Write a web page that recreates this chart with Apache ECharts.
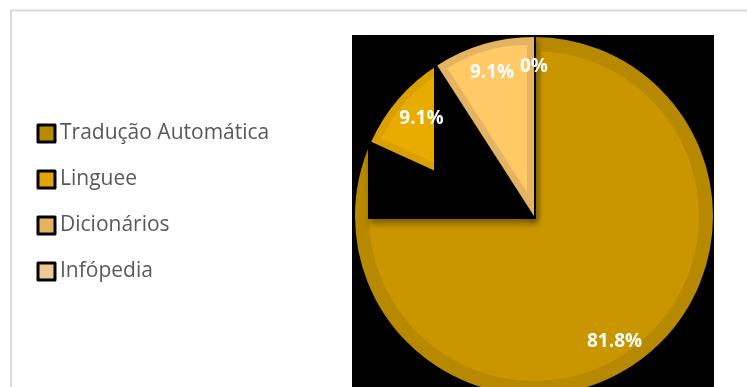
<!DOCTYPE html>
<html>
<head>
<meta charset="utf-8">
<script src="https://cdn.jsdelivr.net/npm/echarts@6/dist/echarts.min.js"></script>
<style>
  html, body { margin: 0; padding: 0; background: #ffffff; }
  #chart { width: 747px; height: 387px; }
</style>
</head>
<body>
<div id="chart"></div>
<script>
// Source categories and response counts
const categories = ['Tradução Automática', 'Linguee', 'Dicionários', 'Infópedia'];
const counts = [9, 1, 1, 0];

// Slice fills, inner bevel rims and legend swatches
const fillColors = ['#C99600', '#E8AB00', '#FFC966', '#F2D3A0'];
const rimColors = ['#B78900', '#D9A000', '#E5B462', '#E6C38C'];
const legendColors = ['#B88A00', '#DFA700', '#E7B45E', '#EDC996'];

// Pie geometry (px)
const CX = 534, CY = 216, R = 179, RIM = 7;
const PLOT = { x: 352, y: 35, w: 362, h: 400 };

const total = counts.reduce((a, b) => a + b, 0);
// cumulative angles, degrees clockwise from 12 o'clock
const startDeg = [];
let acc = 0;
counts.forEach(v => { startDeg.push(acc / total * 360); acc += v; });
const spanDeg = counts.map(v => v / total * 360);

// Inset wedge for a narrow slice: same angles, apex pushed out along the bisector
function insetCenter(i) {
  const half = spanDeg[i] / 2 * Math.PI / 180;
  const mid = (startDeg[i] + spanDeg[i] / 2) * Math.PI / 180;
  const s = RIM / Math.sin(half);
  return { c: [CX + s * Math.sin(mid), CY - s * Math.cos(mid)], r: R - RIM - s };
}

const TRANSPARENT = 'rgba(0,0,0,0)';

function pieLayer(z, center, radius, styleOf, label) {
  return {
    type: 'pie',
    silent: true,
    animation: false,
    z: z,
    center: center,
    radius: radius,
    startAngle: 90,
    clockwise: true,
    percentPrecision: 1,
    emphasis: { disabled: true },
    label: label || { show: false },
    labelLine: { show: false },
    data: categories.map((name, i) => ({ name: name, value: counts[i], itemStyle: styleOf(i) }))
  };
}

const only = (k, style) => i => (i === k ? style : { color: TRANSPARENT, borderWidth: 0 });

const ling = insetCenter(1);
const dic = insetCenter(2);

const series = [
  // main slice with its rim as a stroke (outer half hidden by the shrunken radius)
  pieLayer(2, [CX, CY], R - RIM, only(0, {
    color: fillColors[0], borderColor: rimColors[0], borderWidth: RIM * 2, borderJoin: 'round'
  })),
  // Linguee: rim wedge then inset fill
  pieLayer(5, [CX, CY], R, only(1, { color: rimColors[1], borderWidth: 0 })),
  pieLayer(6, ling.c, ling.r, only(1, { color: fillColors[1], borderWidth: 0 })),
  // Dicionários: rim wedge then inset fill
  pieLayer(8, [CX, CY], R, only(2, { color: rimColors[2], borderWidth: 0 })),
  pieLayer(9, dic.c, dic.r, only(2, { color: fillColors[2], borderWidth: 0 })),
  // percentage labels
  pieLayer(10, [CX, CY], [2 * 146 - R, R], () => ({ color: TRANSPARENT, borderWidth: 0 }), {
    show: true,
    position: 'inside',
    formatter: '{d}%',
    color: '#ffffff',
    fontFamily: 'Open Sans',
    fontWeight: 'bold',
    fontSize: 19
  })
];

const chart = echarts.init(document.getElementById('chart'), null, { renderer: 'canvas' });
chart.setOption({
  animation: false,
  backgroundColor: '#ffffff',
  legend: {
    orient: 'vertical',
    left: 31.5,
    top: 118,
    itemWidth: 17,
    itemHeight: 17,
    itemGap: 25,
    selectedMode: false,
    icon: 'rect',
    textStyle: { fontFamily: 'Open Sans', fontSize: 21, color: '#595959' },
    data: categories.map((name, i) => ({
      name: name,
      itemStyle: { color: legendColors[i], borderColor: '#000000', borderWidth: 3 }
    }))
  },
  graphic: [
    // chart frame
    { type: 'rect', z: 0, silent: true,
      shape: { x: 11, y: 10.5, width: 800, height: 500 },
      style: { fill: null, stroke: '#D9D9D9', lineWidth: 2 } },
    // plot area
    { type: 'rect', z: 1, silent: true,
      shape: { x: PLOT.x, y: PLOT.y, width: PLOT.w, height: PLOT.h },
      style: { fill: '#000000' } },
    // dark panel over the upper-left of the main slice
    { type: 'rect', z: 4, silent: true,
      shape: { x: CX - 166, y: PLOT.y, width: 168, height: CY + 3 - PLOT.y },
      style: { fill: '#000000', shadowBlur: 6, shadowOffsetX: 2, shadowOffsetY: 5, shadowColor: 'rgba(0,0,0,0.35)' } },
    // dark panel cutting the Linguee slice
    { type: 'rect', z: 7, silent: true,
      shape: { x: CX - 100, y: PLOT.y, width: 102, height: CY + 3 - PLOT.y },
      style: { fill: '#000000' } }
  ],
  series: series
});
</script>
</body>
</html>
